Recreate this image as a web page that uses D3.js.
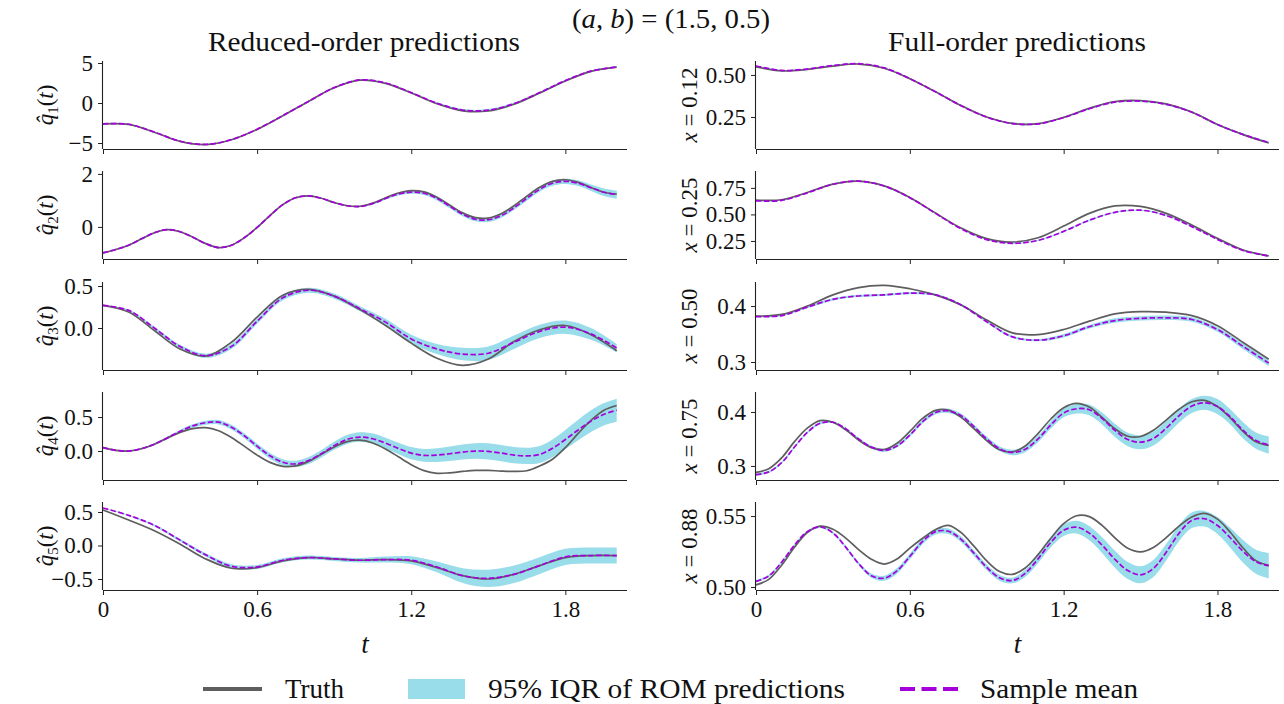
<!DOCTYPE html>
<html><head><meta charset="utf-8">
<script src="https://cdn.jsdelivr.net/npm/d3@7"></script>
<style>
body{margin:0;background:#fff}
svg text{font-family:"Liberation Serif","DejaVu Serif",serif;fill:#111}
</style>
</head><body>
<svg id="c" width="1284" height="704"></svg>
<script>
// ---------------- DATA ----------------
const tCoarse = [0,0.1,0.2,0.3,0.4,0.5,0.6,0.7,0.8,0.9,1.0,1.1,1.2,1.3,1.4,1.5,1.6,1.7,1.8,1.9,2.0];
const tFine = [0,0.05,0.1,0.15,0.2,0.25,0.3,0.35,0.4,0.45,0.5,0.55,0.6,0.65,0.7,0.75,0.8,0.85,0.9,0.95,1.0,1.05,1.1,1.15,1.2,1.25,1.3,1.35,1.4,1.45,1.5,1.55,1.6,1.65,1.7,1.75,1.8,1.85,1.9,1.95,2.0];
const xTicks = [0,0.6,1.2,1.8];
const xTickLabels = ["0","0.6","1.2","1.8"];

// Reduced-order q1..q5
const q1Truth = [-2.62,-2.68,-3.65,-4.8,-5.2,-4.6,-3.3,-1.6,0.2,1.9,2.85,2.45,1.25,-0.1,-0.98,-1.0,-0.15,1.25,2.75,3.95,4.48];
const q1Mean  = [-2.6,-2.66,-3.63,-4.78,-5.18,-4.58,-3.28,-1.58,0.2,1.92,2.88,2.5,1.3,-0.02,-0.88,-0.9,-0.08,1.3,2.8,3.98,4.5];
const q1Half  = [0.03,0.03,0.03,0.03,0.04,0.04,0.04,0.05,0.06,0.06,0.06,0.07,0.09,0.1,0.12,0.14,0.14,0.12,0.12,0.1,0.1];

const q2Truth = [-0.98,-0.85,-0.69,-0.45,-0.22,-0.1,-0.18,-0.39,-0.63,-0.78,-0.69,-0.41,-0.02,0.43,0.84,1.1,1.17,1.08,0.92,0.8,0.78,0.9,1.1,1.28,1.37,1.32,1.12,0.82,0.53,0.35,0.335,0.5,0.8,1.16,1.5,1.72,1.78,1.68,1.49,1.31,1.24];
const q2Mean  = [-0.98,-0.85,-0.69,-0.45,-0.22,-0.1,-0.18,-0.39,-0.63,-0.78,-0.69,-0.41,-0.02,0.43,0.84,1.1,1.17,1.08,0.92,0.8,0.77,0.88,1.07,1.24,1.31,1.27,1.08,0.78,0.48,0.29,0.27,0.42,0.72,1.08,1.42,1.65,1.72,1.65,1.48,1.31,1.22];
const q2Half  = [0.02,0.02,0.02,0.02,0.02,0.02,0.02,0.02,0.02,0.02,0.02,0.02,0.02,0.02,0.02,0.02,0.02,0.02,0.02,0.02,0.02,0.03,0.04,0.05,0.06,0.07,0.08,0.08,0.08,0.08,0.08,0.08,0.08,0.09,0.09,0.1,0.1,0.11,0.12,0.14,0.15];

const q3Truth = [0.27,0.19,-0.03,-0.25,-0.335,-0.17,0.13,0.39,0.46,0.38,0.22,0.03,-0.18,-0.36,-0.445,-0.37,-0.16,-0.02,0.03,-0.08,-0.27];
const q3Mean  = [0.27,0.21,0.0,-0.22,-0.33,-0.22,0.08,0.36,0.45,0.38,0.23,0.07,-0.13,-0.25,-0.31,-0.3,-0.17,-0.04,0.01,-0.07,-0.24];
const q3Half  = [0.005,0.01,0.015,0.02,0.025,0.03,0.03,0.03,0.03,0.03,0.03,0.04,0.05,0.06,0.075,0.08,0.08,0.08,0.08,0.07,0.05];

const q4Truth = [0.05,0.01,0.0,0.033,0.1,0.19,0.274,0.33,0.344,0.299,0.2,0.072,-0.06,-0.167,-0.225,-0.218,-0.152,-0.046,0.06,0.139,0.16,0.119,0.03,-0.085,-0.2,-0.288,-0.328,-0.32,-0.3,-0.285,-0.285,-0.295,-0.3,-0.29,-0.22,-0.12,0.05,0.26,0.45,0.6,0.67];
const q4Mean  = [0.05,0.01,0.0,0.035,0.1,0.193,0.289,0.37,0.417,0.424,0.351,0.225,0.071,-0.07,-0.165,-0.19,-0.14,-0.04,0.077,0.17,0.205,0.181,0.117,0.038,-0.031,-0.064,-0.06,-0.04,-0.015,0.0,-0.005,-0.03,-0.06,-0.072,-0.05,0.04,0.17,0.31,0.44,0.54,0.6];
const q4Half  = [0.005,0.006,0.008,0.01,0.014,0.018,0.022,0.026,0.03,0.033,0.035,0.037,0.04,0.042,0.045,0.048,0.052,0.056,0.06,0.065,0.07,0.075,0.08,0.085,0.09,0.095,0.1,0.105,0.11,0.115,0.12,0.12,0.12,0.12,0.125,0.13,0.14,0.15,0.16,0.165,0.17];

const q5Truth = [0.53,0.38,0.22,0.02,-0.2,-0.34,-0.33,-0.23,-0.18,-0.2,-0.22,-0.21,-0.23,-0.33,-0.45,-0.5,-0.43,-0.3,-0.18,-0.15,-0.15];
const q5Mean  = [0.56,0.45,0.3,0.08,-0.14,-0.31,-0.32,-0.22,-0.18,-0.2,-0.22,-0.21,-0.22,-0.32,-0.45,-0.49,-0.43,-0.3,-0.17,-0.15,-0.15];
const q5Half  = [0.005,0.01,0.015,0.02,0.025,0.03,0.03,0.03,0.03,0.03,0.035,0.045,0.06,0.08,0.11,0.13,0.13,0.125,0.12,0.12,0.12];

// Full-order at x = 0.12, 0.25, 0.50, 0.75, 0.88
const x012Truth = [0.548,0.524,0.533,0.553,0.565,0.54,0.478,0.4,0.318,0.25,0.212,0.21,0.248,0.302,0.342,0.348,0.328,0.28,0.205,0.145,0.095];
const x012Mean  = [0.553,0.527,0.535,0.556,0.567,0.542,0.478,0.4,0.317,0.249,0.211,0.209,0.246,0.299,0.338,0.344,0.325,0.278,0.205,0.146,0.098];
const x012Half  = [0.003,0.003,0.003,0.003,0.003,0.003,0.003,0.003,0.003,0.003,0.004,0.004,0.004,0.004,0.004,0.005,0.005,0.005,0.005,0.005,0.005];

const x025Truth = [0.636,0.638,0.707,0.786,0.814,0.769,0.66,0.513,0.371,0.272,0.24,0.28,0.39,0.51,0.58,0.575,0.51,0.4,0.275,0.165,0.11];
const x025Mean  = [0.628,0.632,0.703,0.784,0.813,0.768,0.658,0.51,0.365,0.262,0.228,0.255,0.34,0.445,0.52,0.54,0.49,0.385,0.265,0.16,0.108];
const x025Half  = [0.004,0.004,0.004,0.004,0.004,0.004,0.004,0.004,0.004,0.004,0.006,0.006,0.006,0.006,0.006,0.006,0.006,0.006,0.006,0.006,0.006];

const x050Truth = [0.382,0.385,0.4,0.42,0.433,0.437,0.431,0.42,0.402,0.375,0.352,0.349,0.358,0.373,0.386,0.39,0.389,0.383,0.365,0.335,0.305];
const x050Mean  = [0.381,0.383,0.398,0.412,0.418,0.42,0.423,0.42,0.402,0.372,0.345,0.339,0.347,0.363,0.374,0.378,0.379,0.376,0.358,0.328,0.298];
const x050Half  = [0.001,0.001,0.002,0.002,0.002,0.002,0.002,0.002,0.002,0.002,0.002,0.002,0.003,0.003,0.004,0.004,0.004,0.004,0.004,0.005,0.005];

const x075Truth = [0.288,0.295,0.315,0.345,0.370,0.384,0.381,0.367,0.348,0.334,0.3305,0.342,0.364,0.388,0.403,0.4034,0.390,0.369,0.347,0.330,0.326,0.337,0.360,0.387,0.408,0.416,0.409,0.390,0.369,0.355,0.3545,0.366,0.385,0.405,0.419,0.4215,0.410,0.389,0.364,0.345,0.338];
const x075Mean  = [0.284,0.289,0.306,0.335,0.362,0.379,0.381,0.369,0.35,0.335,0.329,0.337,0.357,0.382,0.399,0.402,0.393,0.373,0.35,0.332,0.325,0.331,0.35,0.376,0.398,0.406,0.404,0.388,0.366,0.349,0.344,0.351,0.37,0.393,0.411,0.417,0.41,0.391,0.366,0.347,0.339];
const x075Half  = [0.002,0.002,0.002,0.002,0.002,0.002,0.002,0.002,0.0025,0.0025,0.003,0.003,0.003,0.0035,0.0035,0.004,0.004,0.004,0.0045,0.0045,0.005,0.0055,0.006,0.007,0.008,0.009,0.01,0.011,0.012,0.0125,0.013,0.013,0.013,0.013,0.013,0.013,0.014,0.014,0.015,0.015,0.016];

const x088Truth = [0.5015,0.5054,0.5154,0.5280,0.5384,0.5429,0.5407,0.5345,0.5264,0.5196,0.5162,0.5197,0.5274,0.5344,0.5404,0.5434,0.5383,0.5288,0.5184,0.5109,0.5089,0.5134,0.5228,0.5344,0.5446,0.5502,0.5496,0.5434,0.5346,0.5273,0.5248,0.5279,0.5348,0.5429,0.5494,0.5519,0.5478,0.5386,0.5275,0.5186,0.5153];
const x088Mean  = [0.504,0.5078,0.5175,0.5295,0.5390,0.5423,0.5381,0.5281,0.5165,0.5080,0.5062,0.5114,0.5215,0.5322,0.5390,0.5393,0.5336,0.5239,0.5138,0.5065,0.5046,0.5096,0.5198,0.5315,0.5400,0.5422,0.5380,0.5295,0.5195,0.5116,0.5086,0.5131,0.5245,0.5378,0.5470,0.5481,0.5433,0.5347,0.5251,0.5178,0.515];
const x088Half  = [0.0008,0.0008,0.0008,0.0008,0.0008,0.0008,0.0008,0.001,0.0012,0.0015,0.0018,0.002,0.002,0.002,0.002,0.002,0.002,0.002,0.002,0.002,0.002,0.0025,0.003,0.0035,0.004,0.0045,0.005,0.0055,0.006,0.006,0.006,0.006,0.0058,0.0056,0.0055,0.0055,0.006,0.007,0.008,0.0085,0.009];

const leftTicks = [[-5,0,5],[0,2],[0,0.5],[0,0.5],[-0.5,0,0.5]];
const leftTickLabels = [["\u22125","0","5"],["0","2"],["0.0","0.5"],["0.0","0.5"],["\u22120.5","0.0","0.5"]];
const rightTicks = [[0.25,0.5],[0.25,0.5,0.75],[0.3,0.4],[0.3,0.4],[0.5,0.55]];
const rightTickLabels = [["0.25","0.50"],["0.25","0.50","0.75"],["0.3","0.4"],["0.3","0.4"],["0.50","0.55"]];
const xLocations = ["0.12","0.25","0.50","0.75","0.88"];
const legendLabels = ["Truth","95% IQR of ROM predictions","Sample mean"];

// ---------------- LAYOUT ----------------
const COL_X = [[103,627],[756,1279]];
const ROW_BOTTOM = [149,259,370,480,590];
const AX_H = 88;
const leftDomains = [[-5.75,5.25],[-1.21,2.11],[-0.5,0.548],[-0.426,0.868],[-0.664,0.649]];
const rightDomains = [[0.0595,0.583],[0.08,0.909],[0.2857,0.443],[0.274,0.437],[0.4979,0.5599]];
const C_TRUTH = "#5e5e5e", C_BAND = "#99dcea", C_MEAN = "#a500dc", C_AX = "#222";

const panels = [
  {col:0,row:0,t:tCoarse,truth:q1Truth,mean:q1Mean,half:q1Half},
  {col:0,row:1,t:tFine,truth:q2Truth,mean:q2Mean,half:q2Half},
  {col:0,row:2,t:tCoarse,truth:q3Truth,mean:q3Mean,half:q3Half},
  {col:0,row:3,t:tFine,truth:q4Truth,mean:q4Mean,half:q4Half},
  {col:0,row:4,t:tCoarse,truth:q5Truth,mean:q5Mean,half:q5Half},
  {col:1,row:0,t:tCoarse,truth:x012Truth,mean:x012Mean,half:x012Half},
  {col:1,row:1,t:tCoarse,truth:x025Truth,mean:x025Mean,half:x025Half},
  {col:1,row:2,t:tCoarse,truth:x050Truth,mean:x050Mean,half:x050Half},
  {col:1,row:3,t:tFine,truth:x075Truth,mean:x075Mean,half:x075Half},
  {col:1,row:4,t:tFine,truth:x088Truth,mean:x088Mean,half:x088Half}
];

const svg = d3.select("#c");
const curve = d3.curveCatmullRom.alpha(0.5);

panels.forEach(p => {
  const [x0,x1] = COL_X[p.col];
  const B = ROW_BOTTOM[p.row], T = B - AX_H;
  const dom = p.col===0 ? leftDomains[p.row] : rightDomains[p.row];
  const ticks = p.col===0 ? leftTicks[p.row] : rightTicks[p.row];
  const tlabels = p.col===0 ? leftTickLabels[p.row] : rightTickLabels[p.row];
  const x = d3.scaleLinear().domain([0,2.04]).range([x0,x1]);
  const y = d3.scaleLinear().domain(dom).range([B,T]);
  const g = svg.append("g");
  const idx = d3.range(p.t.length);

  g.append("path").datum(idx)
    .attr("d", d3.area().curve(curve).x(i=>x(p.t[i])).y0(i=>y(p.mean[i]-p.half[i])).y1(i=>y(p.mean[i]+p.half[i])))
    .attr("fill", C_BAND).attr("stroke","none");
  g.append("path").datum(idx)
    .attr("d", d3.line().curve(curve).x(i=>x(p.t[i])).y(i=>y(p.truth[i])))
    .attr("fill","none").attr("stroke",C_TRUTH).attr("stroke-width",1.7);
  g.append("path").datum(idx)
    .attr("d", d3.line().curve(curve).x(i=>x(p.t[i])).y(i=>y(p.mean[i])))
    .attr("fill","none").attr("stroke",C_MEAN).attr("stroke-width",1.7).attr("stroke-dasharray","5.5,2.4");

  // x axis
  const xa = g.append("g").attr("transform",`translate(0,${B})`)
    .call(d3.axisBottom(x).tickValues(xTicks).tickSize(5).tickPadding(6)
      .tickFormat((d,i)=> p.row===4 ? xTickLabels[i] : ""));
  xa.select(".domain").attr("d",`M${x0},0.5H${x1}`).attr("stroke",C_AX).attr("stroke-width",1.1);
  xa.selectAll(".tick line").attr("stroke",C_AX).attr("stroke-width",1);
  xa.selectAll(".tick text").attr("font-family","Liberation Serif").attr("font-size",23).attr("fill","#111");

  // y axis
  const ya = g.append("g").attr("transform",`translate(${x0},0)`)
    .call(d3.axisLeft(y).tickValues(ticks).tickSize(5).tickPadding(5)
      .tickFormat((d,i)=>tlabels[i]));
  ya.select(".domain").attr("d",`M-0.5,${T}V${B}`).attr("stroke",C_AX).attr("stroke-width",1.1);
  ya.selectAll(".tick line").attr("stroke",C_AX).attr("stroke-width",1);
  ya.selectAll(".tick text").attr("font-family","Liberation Serif").attr("font-size",23).attr("fill","#111");

  // y labels
  const cy = (T+B)/2;
  if (p.col===0) {
    const tx = svg.append("text").attr("transform",`translate(53,${cy}) rotate(-90)`)
      .attr("text-anchor","middle").attr("font-size",23);
    tx.append("tspan").attr("font-style","italic").text("q\u0302");
    tx.append("tspan").attr("dy",5).attr("font-size",15).text(String(p.row+1));
    tx.append("tspan").attr("dy",-5).text("(");
    tx.append("tspan").attr("font-style","italic").text("t");
    tx.append("tspan").text(")");
  } else {
    const tx = svg.append("text").attr("transform",`translate(697,${cy}) rotate(-90)`)
      .attr("text-anchor","middle").attr("font-size",23);
    tx.append("tspan").attr("font-style","italic").text("x");
    tx.append("tspan").text(" = " + xLocations[p.row]);
  }
});

// x labels "t"
[[103,627],[756,1279]].forEach(([a,b])=>{
  svg.append("text").attr("x",(a+b)/2).attr("y",653).attr("text-anchor","middle")
    .attr("font-size",27).attr("font-style","italic").text("t");
});

// column titles
svg.append("text").attr("x",364).attr("y",51).attr("text-anchor","middle").attr("font-size",27)
  .attr("textLength",312).attr("lengthAdjust","spacingAndGlyphs").text("Reduced-order predictions");
svg.append("text").attr("x",1017).attr("y",51).attr("text-anchor","middle").attr("font-size",27)
  .attr("textLength",258).attr("lengthAdjust","spacingAndGlyphs").text("Full-order predictions");

// super title
const st = svg.append("text").attr("x",671).attr("y",28).attr("text-anchor","middle").attr("font-size",28)
  .attr("textLength",198).attr("lengthAdjust","spacingAndGlyphs");
st.append("tspan").text("(");
st.append("tspan").attr("font-style","italic").text("a");
st.append("tspan").text(", ");
st.append("tspan").attr("font-style","italic").text("b");
st.append("tspan").text(") = (1.5, 0.5)");

// legend
const lg = svg.append("g");
lg.append("line").attr("x1",203).attr("x2",262).attr("y1",689).attr("y2",689).attr("stroke",C_TRUTH).attr("stroke-width",4);
lg.append("text").attr("x",285).attr("y",698).attr("font-size",27).text(legendLabels[0]);
lg.append("rect").attr("x",408).attr("y",679).attr("width",57).attr("height",20).attr("fill",C_BAND);
lg.append("text").attr("x",488).attr("y",698).attr("font-size",27).attr("textLength",357).attr("lengthAdjust","spacingAndGlyphs").text(legendLabels[1]);
lg.append("line").attr("x1",900).attr("x2",958).attr("y1",689).attr("y2",689).attr("stroke",C_MEAN).attr("stroke-width",4).attr("stroke-dasharray","15,6.5");
lg.append("text").attr("x",980).attr("y",698).attr("font-size",27).attr("textLength",158).attr("lengthAdjust","spacingAndGlyphs").text(legendLabels[2]);
</script>
</body></html>
